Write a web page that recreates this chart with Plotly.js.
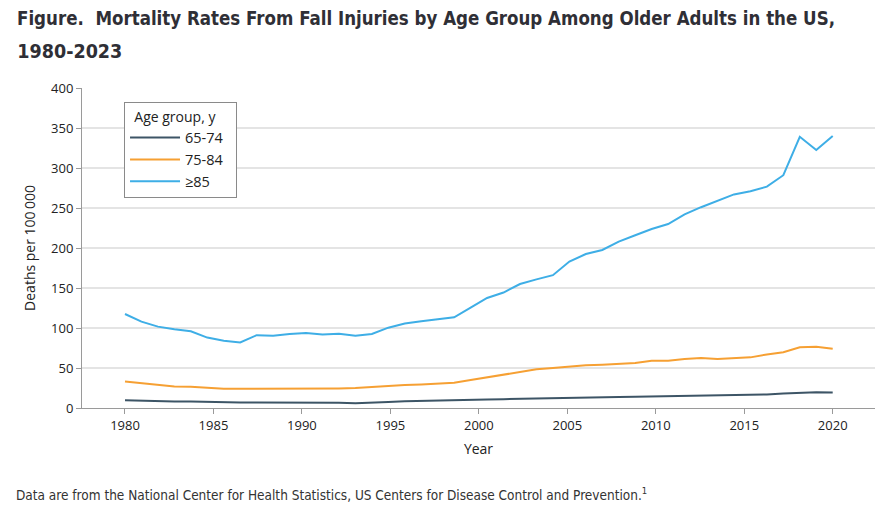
<!DOCTYPE html>
<html>
<head>
<meta charset="utf-8">
<script src="https://cdn.plot.ly/plotly-3.0.1.min.js"></script>
<style>
  html, body { margin: 0; padding: 0; background: #ffffff; }
  #chart { width: 887px; height: 511px; }
  #chart .gtitle, #chart .annotation-text { font-stretch: condensed !important; }
</style>
</head>
<body>
<div id="chart"></div>
<script>
// Data years (the figure covers 1980-2023, drawn over the 1980-2020 axis span)
const years = [1980,1981,1982,1983,1984,1985,1986,1987,1988,1989,1990,1991,1992,1993,1994,1995,1996,1997,1998,1999,2000,2001,2002,2003,2004,2005,2006,2007,2008,2009,2010,2011,2012,2013,2014,2015,2016,2017,2018,2019,2020,2021,2022,2023];

// Deaths per 100 000 by age group
const age65to74 = [9.8,9,8.3,8.2,8,7.5,7,7,7,7,7,7,7,6.5,6,6.3,7.5,8.5,8.8,8.8,9,9.5,10.5,11,11.5,12,12.3,12.7,13,13.3,13.6,14,14.3,14.7,15,15.3,15.7,16,16.5,17,18,18.8,19.6,19.3];
const age75to84 = [33,31,28.8,26.8,26.7,25.3,24,24,24,24,24.5,24.5,24.5,24.5,25,26.5,28,28.8,29.5,30.5,31.5,35,38.5,42,45.5,48.3,50,51.8,53.3,54.2,55.2,56.2,59,59,61.2,62.5,61.2,62.5,63.3,67,69.6,75.8,76.7,74.2];
const age85plus = [117.5,108,101.7,98.3,96,88,84,82,91,90.4,92.5,93.7,92,92.9,90.4,92.5,100.4,105.5,108.5,110.8,113.3,125.5,137.5,144.3,155,160.8,166,183,192.5,197.5,208,216,223.7,230,242,251,258.7,267,271,276.7,291,339,322.5,340];

const seriesNames = ['65-74', '75-84', '\u226585'];
const seriesColors = ['#3d5566', '#f6a033', '#3eaee6'];
const xTickVals = [1980,1985,1990,1995,2000,2005,2010,2015,2020];
const yTickVals = [0,50,100,150,200,250,300,350,400];

const titleLine1 = 'Figure.\u00a0 Mortality Rates From Fall Injuries by Age Group Among Older Adults in the US,';
const titleLine2 = '1980-2023';
const legendTitle = 'Age group, y';
const footnote = 'Data are from the National Center for Health Statistics, US Centers for Disease Control and Prevention.<sup>1</sup>';

const narrow = '"DejaVu Sans Condensed", "DejaVu Sans", sans-serif';
const body = '"Open Sans", "Noto Sans", "DejaVu Sans", sans-serif';

const allSeries = [age65to74, age75to84, age85plus];
const traces = allSeries.map((vals, i) => ({
  type: 'scatter',
  mode: 'lines',
  x: years,
  y: vals,
  xaxis: 'x2',
  yaxis: 'y',
  name: seriesNames[i],
  line: { color: seriesColors[i], width: 2 },
  hoverinfo: 'x+y+name'
}));
// invisible trace to anchor the visible x axis
traces.push({
  type: 'scatter', mode: 'lines', x: [xTickVals[0]], y: [0],
  xaxis: 'x', yaxis: 'y', showlegend: false, hoverinfo: 'skip',
  line: { color: 'rgba(0,0,0,0)' }
});

const visLeft = 1977.57, visRight = 2022.39;
const first = years[0], last = years[years.length - 1];
const labelEnd = xTickVals[xTickVals.length - 1];
const stretch = (last - first) / (labelEnd - first);
const dataLeft = first + (visLeft - first) * stretch;
const dataRight = first + (visRight - first) * stretch;

const pad = (n) => '\u00a0'.repeat(n);

const layout = {
  width: 887,
  height: 511,
  paper_bgcolor: '#ffffff',
  plot_bgcolor: '#ffffff',
  margin: { l: 82, r: 12, t: 88, b: 103, autoexpand: false },
  title: {
    text: titleLine1,
    font: { family: narrow, size: 19.5, color: '#2f2f36', weight: 'bold' },
    x: 17 / 887, xanchor: 'left', xref: 'container',
    y: 1 - 18 / 511, yanchor: 'middle', yref: 'container'
  },
  showlegend: true,
  legend: {
    x: 0.053, y: 0.955, xanchor: 'left', yanchor: 'top',
    bgcolor: '#ffffff', bordercolor: '#8a8a8a', borderwidth: 1,
    font: { family: body, size: 14.5, color: '#222222' },
    title: { text: pad(2) + legendTitle + pad(5), side: 'top', font: { family: body, size: 14, color: '#222222' } },
    itemwidth: 50,
    tracegroupgap: 0
  },
  xaxis: {
    range: [visLeft, visRight],
    tickmode: 'array', tickvals: xTickVals,
    ticks: 'outside', ticklen: 5, tickcolor: '#9a9a9a', tickwidth: 1,
    showline: true, linecolor: '#9a9a9a', linewidth: 1,
    showgrid: false, zeroline: false,
    tickfont: { family: body, size: 13, color: '#222222' },
    title: { text: 'Year', font: { family: body, size: 14, color: '#222222' }, standoff: 11 },
    fixedrange: true
  },
  xaxis2: {
    range: [dataLeft, dataRight],
    overlaying: 'x', visible: false, showgrid: false, zeroline: false,
    fixedrange: true
  },
  yaxis: {
    range: [0, 400],
    tickmode: 'array', tickvals: yTickVals,
    ticks: 'outside', ticklen: 5, tickcolor: '#9a9a9a', tickwidth: 1,
    showline: true, linecolor: '#9a9a9a', linewidth: 1,
    showgrid: true, gridcolor: '#e4e4e4', gridwidth: 1.5,
    zeroline: false,
    tickfont: { family: body, size: 13, color: '#222222' },
    title: { text: 'Deaths per 100\u2009000', font: { family: body, size: 14, color: '#222222' }, standoff: 12 },
    fixedrange: true
  },
  annotations: [
    {
      text: titleLine2, xref: 'paper', yref: 'paper', showarrow: false,
      x: (14 - 82) / 793, y: (408 - 51) / 320, xanchor: 'left', yanchor: 'middle',
      font: { family: narrow, size: 20, color: '#2f2f36', weight: 'bold' }
    },
    {
      text: footnote, xref: 'paper', yref: 'paper', showarrow: false,
      x: (14 - 82) / 793, y: (408 - 494) / 320, xanchor: 'left', yanchor: 'middle',
      font: { family: narrow, size: 13.5, color: '#333333' }
    }
  ]
};

// target rendered widths of the two title lines in the reference (px)
const titleWidths = [818, 105];

Plotly.newPlot('chart', traces, layout, { displayModeBar: false, staticPlot: true }).then(function (gd) {
  const t1 = gd.querySelector('.gtitle');
  const annTexts = gd.querySelectorAll('.annotation-text');
  const fitText = function (el, w) {
    if (!el) return;
    if (el.getComputedTextLength && Math.abs(el.getComputedTextLength() - w) > 2) {
      el.setAttribute('textLength', w);
      el.setAttribute('lengthAdjust', 'spacingAndGlyphs');
    }
  };
  fitText(t1, titleWidths[0]);
  if (annTexts.length) fitText(annTexts[0], titleWidths[1]);
});
</script>
</body>
</html>
